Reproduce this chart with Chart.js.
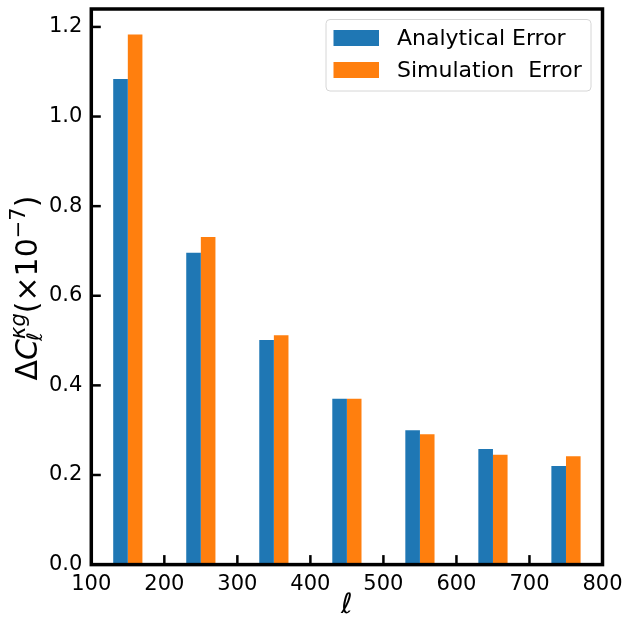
<!DOCTYPE html>
<html>
<head>
<meta charset="utf-8">
<script src="https://cdn.jsdelivr.net/npm/chart.js@4/dist/chart.umd.min.js"></script>
<style>
  html, body { margin: 0; padding: 0; background: #fff; }
  #wrap { width: 625px; height: 623px; }
</style>
</head>
<body>
<div id="wrap"><canvas id="errChart" width="625" height="623"></canvas></div>
<script>
// Multipole bins and errors (x 1e-7)
const ell = [150, 250, 350, 450, 550, 650, 750];
const analyticalErr = [1.084, 0.696, 0.501, 0.370, 0.300, 0.258, 0.220];
const simulationErr = [1.183, 0.731, 0.512, 0.370, 0.291, 0.245, 0.242];
const xTicks = [100, 200, 300, 400, 500, 600, 700, 800];
const yTicks = [0.0, 0.2, 0.4, 0.6, 0.8, 1.0, 1.2];

const FONT = 'DejaVu Sans';
const BLUE = '#1f77b4';
const ORANGE = '#ff7f0e';

// frame + inward ticks, matplotlib style
const framePlugin = {
    id: 'frame',
    afterDraw(chart) {
        const { ctx, chartArea: a, scales } = chart;
        ctx.save();
        ctx.strokeStyle = '#000';
        ctx.lineWidth = 2.5;
        xTicks.forEach(v => {
            const px = scales.x.getPixelForValue(v);
            ctx.beginPath();
            ctx.moveTo(px, a.bottom);
            ctx.lineTo(px, a.bottom - 9.5);
            ctx.stroke();
        });
        yTicks.forEach(v => {
            const py = scales.y.getPixelForValue(v);
            ctx.beginPath();
            ctx.moveTo(a.left, py);
            ctx.lineTo(a.left + 9.5, py);
            ctx.stroke();
        });
        ctx.lineWidth = 3.5;
        ctx.strokeRect(a.left, a.top, a.right - a.left, a.bottom - a.top);
        ctx.restore();
    }
};

// legend box in the upper right corner
const legendPlugin = {
    id: 'boxLegend',
    afterDraw(chart) {
        const ctx = chart.ctx;
        const x = 326, y = 19.5, w = 265, h = 71.5, r = 4;
        ctx.save();
        ctx.beginPath();
        ctx.roundRect(x, y, w, h, r);
        ctx.fillStyle = 'rgba(255,255,255,0.8)';
        ctx.fill();
        ctx.strokeStyle = '#d6d6d6';
        ctx.lineWidth = 1;
        ctx.stroke();
        ctx.font = '22px ' + FONT;
        ctx.textBaseline = 'middle';
        ctx.fillStyle = '#000';
        chart.data.datasets.forEach((ds, i) => {
            const cy = 38 + i * 32;
            ctx.fillStyle = ds.backgroundColor;
            ctx.fillRect(333.5, cy - 8, 45.5, 16);
            ctx.fillStyle = '#000';
            ctx.fillText(ds.label, 397, cy + 1);
        });
        ctx.restore();
    }
};

// rotated y label with sub/superscripts
const yTitlePlugin = {
    id: 'yTitle',
    afterDraw(chart) {
        const ctx = chart.ctx;
        const big = 30, small = 21;
        const parts = [
            { t: 'Δ', s: big, it: false, dy: 0 },
            { t: 'C', s: big, it: true, dy: 0 },
            { t: 'κg', s: small, it: true, dy: -12.5, stackWith: { t: 'ℓ', dy: 5 } },
            { t: '(', s: big, it: false, dy: 0 },
            { t: '×', s: big, it: false, dy: 0 },
            { t: '10', s: big, it: false, dy: 0 },
            { t: '−7', s: small, it: false, dy: -12.5 },
            { t: ')', s: big, it: false, dy: 0 }
        ];
        const fontOf = p => (p.it ? 'italic ' : '') + p.s + 'px ' + FONT;
        ctx.save();
        let total = 0;
        parts.forEach(p => {
            ctx.font = fontOf(p);
            let w = ctx.measureText(p.t).width;
            if (p.stackWith) w = Math.max(w, ctx.measureText(p.stackWith.t).width);
            p.w = w;
            total += w;
        });
        ctx.translate(37, 288);
        ctx.rotate(-Math.PI / 2);
        ctx.fillStyle = '#000';
        ctx.textBaseline = 'alphabetic';
        let cx = -total / 2;
        parts.forEach(p => {
            ctx.font = fontOf(p);
            ctx.fillText(p.t, cx, p.dy);
            if (p.stackWith) ctx.fillText(p.stackWith.t, cx - 2, p.stackWith.dy);
            cx += p.w;
        });
        ctx.restore();
    }
};

const ctx = document.getElementById('errChart').getContext('2d');
const errChart = new Chart(ctx, {
    type: 'bar',
    data: {
        datasets: [
            {
                label: 'Analytical Error',
                data: ell.map((l, i) => ({ x: l, y: analyticalErr[i] })),
                backgroundColor: BLUE
            },
            {
                label: 'Simulation  Error',
                data: ell.map((l, i) => ({ x: l, y: simulationErr[i] })),
                backgroundColor: ORANGE
            }
        ]
    },
    options: {
        responsive: false,
        animation: false,
        layout: { padding: { top: 9, right: 22.5, left: 0, bottom: 0 } },
        categoryPercentage: 0.4,
        barPercentage: 1.0,
        plugins: {
            legend: { display: false },
            tooltip: { enabled: false }
        },
        scales: {
            x: {
                type: 'linear',
                min: 100,
                max: 800,
                offset: false,
                afterFit: s => {
                    s.height = 58.4;
                    s.paddingLeft = 0;
                    s.paddingRight = 0;
                },
                afterBuildTicks: s => { s.ticks = xTicks.map(v => ({ value: v })); },
                grid: { display: false, drawTicks: false },
                border: { display: false },
                ticks: {
                    color: '#000',
                    padding: 7,
                    maxRotation: 0,
                    font: { family: FONT, size: 21 }
                },
                title: {
                    display: true,
                    text: 'ℓ',
                    color: '#000',
                    padding: { top: -6, bottom: 0 },
                    font: { family: FONT, size: 28, style: 'italic' }
                }
            },
            y: {
                min: 0,
                max: 1.24,
                afterFit: s => {
                    s.width = 91.3;
                    s.paddingTop = 0;
                    s.paddingBottom = 0;
                },
                afterBuildTicks: s => { s.ticks = yTicks.map(v => ({ value: v })); },
                grid: { display: false, drawTicks: false },
                border: { display: false },
                ticks: {
                    color: '#000',
                    padding: 9,
                    font: { family: FONT, size: 21 },
                    callback: v => v.toFixed(1)
                }
            }
        }
    },
    plugins: [framePlugin, legendPlugin, yTitlePlugin]
});
</script>
</body>
</html>
